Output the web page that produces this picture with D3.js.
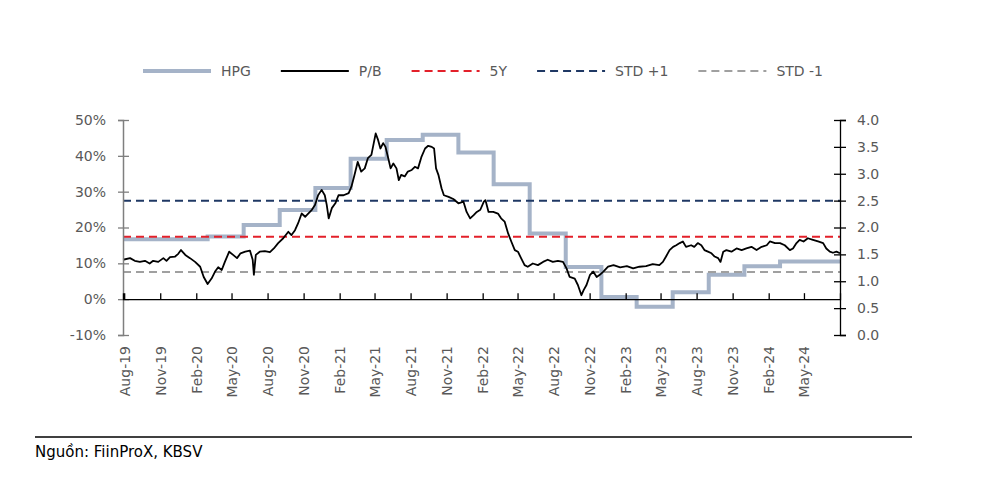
<!DOCTYPE html>
<html>
<head>
<meta charset="utf-8">
<script src="https://cdn.jsdelivr.net/npm/d3@7"></script>
<style>
  html, body { margin: 0; padding: 0; background: #fff; }
  svg { display: block; font-family: "DejaVu Sans", sans-serif; }
</style>
</head>
<body>
<svg id="chart" width="981" height="486"></svg>
<script>
// ---------- DATA ----------
const seriesNames = ["HPG", "P/B", "5Y", "STD +1", "STD -1"];

// HPG (left axis, %) – quarterly step values
const hpgDates = ["2019-07-29","2020-03-01","2020-06-01","2020-09-01","2020-12-01","2021-03-01","2021-06-01","2021-09-01","2021-12-01","2022-03-01","2022-06-01","2022-09-01","2022-12-01","2023-03-01","2023-06-01","2023-09-01","2023-12-01","2024-03-01","2024-08-01"];
const hpgValues = [16.7,17.5,20.7,24.9,31.0,39.2,44.4,45.9,40.9,32.1,18.3,9.0,0.6,-2.1,1.9,6.8,9.2,10.5,10.5];

// P/B (right axis)
const pbDates = ["2019-07-29","2019-08-16","2019-08-28","2019-09-10","2019-09-23","2019-10-05","2019-10-14","2019-10-27","2019-11-09","2019-11-17","2019-11-26","2019-12-09","2019-12-17","2019-12-24","2020-01-04","2020-01-16","2020-01-29","2020-02-11","2020-02-20","2020-03-01","2020-03-11","2020-03-20","2020-03-28","2020-04-06","2020-04-14","2020-04-25","2020-05-05","2020-05-15","2020-05-24","2020-06-05","2020-06-17","2020-06-24","2020-06-27","2020-07-02","2020-07-12","2020-07-25","2020-08-07","2020-08-17","2020-08-28","2020-09-10","2020-09-23","2020-10-01","2020-10-10","2020-10-18","2020-10-27","2020-11-05","2020-11-09","2020-11-22","2020-11-30","2020-12-08","2020-12-17","2020-12-25","2020-12-30","2021-01-04","2021-01-12","2021-01-21","2021-01-29","2021-02-11","2021-02-24","2021-03-03","2021-03-11","2021-03-19","2021-03-28","2021-04-06","2021-04-14","2021-04-23","2021-04-29","2021-05-04","2021-05-10","2021-05-16","2021-05-23","2021-05-29","2021-06-05","2021-06-11","2021-06-18","2021-06-26","2021-07-02","2021-07-08","2021-07-17","2021-07-25","2021-08-04","2021-08-12","2021-08-20","2021-08-29","2021-09-07","2021-09-15","2021-09-24","2021-09-30","2021-10-05","2021-10-11","2021-10-19","2021-10-25","2021-11-06","2021-11-18","2021-12-01","2021-12-14","2021-12-22","2021-12-31","2022-01-09","2022-01-17","2022-01-26","2022-02-04","2022-02-08","2022-02-16","2022-02-28","2022-03-12","2022-03-20","2022-03-29","2022-04-07","2022-04-15","2022-04-24","2022-05-02","2022-05-10","2022-05-19","2022-05-27","2022-06-09","2022-06-22","2022-07-05","2022-07-17","2022-07-30","2022-08-12","2022-08-25","2022-09-03","2022-09-11","2022-09-24","2022-10-02","2022-10-11","2022-10-17","2022-10-24","2022-11-02","2022-11-10","2022-11-19","2022-11-27","2022-12-06","2022-12-18","2023-01-01","2023-01-18","2023-02-04","2023-02-20","2023-03-08","2023-03-25","2023-04-11","2023-04-28","2023-05-07","2023-05-15","2023-05-24","2023-06-02","2023-06-10","2023-06-19","2023-06-27","2023-07-05","2023-07-18","2023-07-26","2023-08-04","2023-08-13","2023-08-21","2023-08-30","2023-09-08","2023-09-16","2023-09-25","2023-10-01","2023-10-08","2023-10-16","2023-10-29","2023-11-11","2023-11-24","2023-12-06","2023-12-19","2024-01-01","2024-01-14","2024-01-27","2024-02-04","2024-02-17","2024-03-01","2024-03-13","2024-03-26","2024-04-03","2024-04-12","2024-04-20","2024-04-30","2024-05-11","2024-05-24","2024-06-06","2024-06-19","2024-06-27","2024-07-06","2024-07-14","2024-07-23","2024-08-01"];
const pbValues = [1.40,1.43,1.38,1.36,1.38,1.33,1.38,1.36,1.43,1.38,1.45,1.46,1.51,1.58,1.49,1.43,1.36,1.27,1.08,0.95,1.05,1.18,1.26,1.21,1.36,1.55,1.49,1.43,1.52,1.55,1.57,1.40,1.12,1.49,1.55,1.56,1.54,1.61,1.71,1.80,1.92,1.86,1.95,2.08,2.26,2.20,2.23,2.33,2.42,2.60,2.70,2.60,2.42,2.17,2.36,2.45,2.60,2.60,2.64,2.76,2.98,3.22,3.04,3.10,3.29,3.35,3.57,3.75,3.63,3.47,3.57,3.50,3.29,3.10,3.19,3.10,2.88,2.98,2.95,3.04,3.07,3.13,3.10,3.32,3.47,3.52,3.50,3.47,3.10,2.98,2.73,2.60,2.57,2.53,2.45,2.48,2.29,2.17,2.23,2.29,2.33,2.48,2.51,2.29,2.29,2.26,2.17,2.11,1.89,1.74,1.58,1.55,1.43,1.30,1.27,1.33,1.30,1.36,1.40,1.36,1.38,1.36,1.24,1.08,1.05,0.93,0.74,0.84,0.93,1.12,1.18,1.08,1.12,1.18,1.27,1.30,1.26,1.28,1.24,1.27,1.28,1.32,1.30,1.36,1.46,1.58,1.64,1.67,1.71,1.74,1.64,1.67,1.64,1.71,1.67,1.58,1.55,1.52,1.46,1.43,1.36,1.55,1.58,1.55,1.61,1.58,1.61,1.64,1.58,1.64,1.67,1.74,1.71,1.71,1.67,1.58,1.61,1.71,1.77,1.74,1.80,1.77,1.74,1.71,1.61,1.55,1.53,1.55,1.52];

// Reference lines (right axis)
const refValues = { "5Y": 1.83, "STD +1": 2.50, "STD -1": 1.17 };

// Axis tick values
const leftTicks = [-10, 0, 10, 20, 30, 40, 50];
const rightTicks = [0, 0.5, 1.0, 1.5, 2.0, 2.5, 3.0, 3.5, 4.0];
const xTickLabels = ["Aug-19","Nov-19","Feb-20","May-20","Aug-20","Nov-20","Feb-21","May-21","Aug-21","Nov-21","Feb-22","May-22","Aug-22","Nov-22","Feb-23","May-23","Aug-23","Nov-23","Feb-24","May-24"];

const sourceText = "Nguồn: FiinProX, KBSV";

// ---------- STYLE ----------
const colors = { "HPG": "#a5b3c8", "P/B": "#000000", "5Y": "#e3202a", "STD +1": "#1f3864", "STD -1": "#a0a0a0" };
const textColor = "#595959";

// ---------- DRAW ----------
const parse = d3.timeParse("%Y-%m-%d");
const parseTick = d3.timeParse("%b-%y");
const svg = d3.select("#chart");

const x = d3.scaleTime().domain([parse("2019-07-29"), parse("2024-08-01")]).range([123, 840]);
const yL = d3.scaleLinear().domain([-10, 50]).range([335, 120]);
const yR = d3.scaleLinear().domain([0, 4]).range([335, 120]);

const hpg = hpgDates.map((d, i) => ({ date: parse(d), value: hpgValues[i] }));
const pb = pbDates.map((d, i) => ({ date: parse(d), value: pbValues[i] }));

// HPG step
svg.append("path")
  .datum(hpg)
  .attr("fill", "none")
  .attr("stroke", colors["HPG"])
  .attr("stroke-width", 4)
  .attr("d", d3.line().x(d => x(d.date)).y(d => yL(d.value)).curve(d3.curveStepAfter));

// reference dashed lines
["5Y", "STD +1", "STD -1"].forEach(k => {
  svg.append("line")
    .attr("x1", x.range()[0]).attr("x2", x.range()[1])
    .attr("y1", yR(refValues[k])).attr("y2", yR(refValues[k]))
    .attr("stroke", colors[k])
    .attr("stroke-width", 2)
    .attr("stroke-dasharray", "8,5");
});

// P/B line
svg.append("path")
  .datum(pb)
  .attr("fill", "none")
  .attr("stroke", colors["P/B"])
  .attr("stroke-width", 1.8)
  .attr("stroke-linejoin", "round")
  .attr("d", d3.line().x(d => x(d.date)).y(d => yR(d.value)));

// Left axis
const gL = svg.append("g")
  .attr("transform", `translate(${x.range()[0]},0)`)
  .call(d3.axisLeft(yL).tickValues(leftTicks).tickFormat(d => d + "%").tickSize(5).tickPadding(12));
gL.select(".domain").attr("stroke", "#7f7f7f").attr("stroke-width", 1.5);
gL.selectAll(".tick line").attr("x1", 6).attr("x2", -5).attr("stroke", "#7f7f7f").attr("stroke-width", 1.3);
gL.selectAll(".tick text").attr("fill", textColor).style("font-size", "14px").style("font-family", "DejaVu Sans");

// Right axis
const gR = svg.append("g")
  .attr("transform", `translate(${x.range()[1]},0)`)
  .call(d3.axisRight(yR).tickValues(rightTicks).tickFormat(d3.format(".1f")).tickSize(6).tickPadding(11));
gR.select(".domain").attr("stroke", "#000").attr("stroke-width", 1.3);
gR.selectAll(".tick line").attr("x1", -6).attr("x2", 6).attr("stroke", "#000").attr("stroke-width", 1.3);
gR.selectAll(".tick text").attr("fill", textColor).style("font-size", "14px").style("font-family", "DejaVu Sans");

// X axis (line at 0%)
const xTicks = xTickLabels.map(s => parseTick(s));
const gX = svg.append("g")
  .attr("transform", `translate(0,${yL(0)})`)
  .call(d3.axisBottom(x).tickValues(xTicks).tickFormat(d3.timeFormat("%b-%y")).tickSize(-6));
gX.select(".domain").attr("stroke", "#000").attr("stroke-width", 1.3);
gX.selectAll(".tick line").attr("stroke", "#000").attr("stroke-width", 1.3);
gX.selectAll(".tick text")
  .attr("fill", textColor)
  .style("font-size", "14px").style("font-family", "DejaVu Sans")
  .attr("text-anchor", "end")
  .attr("x", 0).attr("y", 0).attr("dy", "0.35em")
  .attr("transform", `translate(0,${yL(-10) - yL(0) + 11}) rotate(-90)`);

// Legend
const legend = svg.append("g").attr("transform", "translate(143,71)");
let lx = 0;
seriesNames.forEach(name => {
  const g = legend.append("g").attr("transform", `translate(${lx},0)`);
  const ln = g.append("line").attr("x1", 0).attr("x2", 68).attr("y1", 0).attr("y2", 0)
    .attr("stroke", colors[name]);
  if (name === "HPG") ln.attr("stroke-width", 4);
  else if (name === "P/B") ln.attr("stroke-width", 1.8);
  else ln.attr("stroke-width", 2).attr("stroke-dasharray", "8,5");
  const t = g.append("text").attr("x", 78).attr("y", 0).attr("dy", "0.35em")
    .attr("fill", textColor).style("font-size", "14px").text(name);
  lx += 78 + t.node().getComputedTextLength() + 30;
});

// Source rule and text
svg.append("line").attr("x1", 35).attr("x2", 912).attr("y1", 437).attr("y2", 437)
  .attr("stroke", "#000").attr("stroke-width", 1.5);
svg.append("text").attr("x", 35).attr("y", 457).attr("fill", "#000")
  .style("font-size", "15px").text(sourceText);
</script>
</body>
</html>
